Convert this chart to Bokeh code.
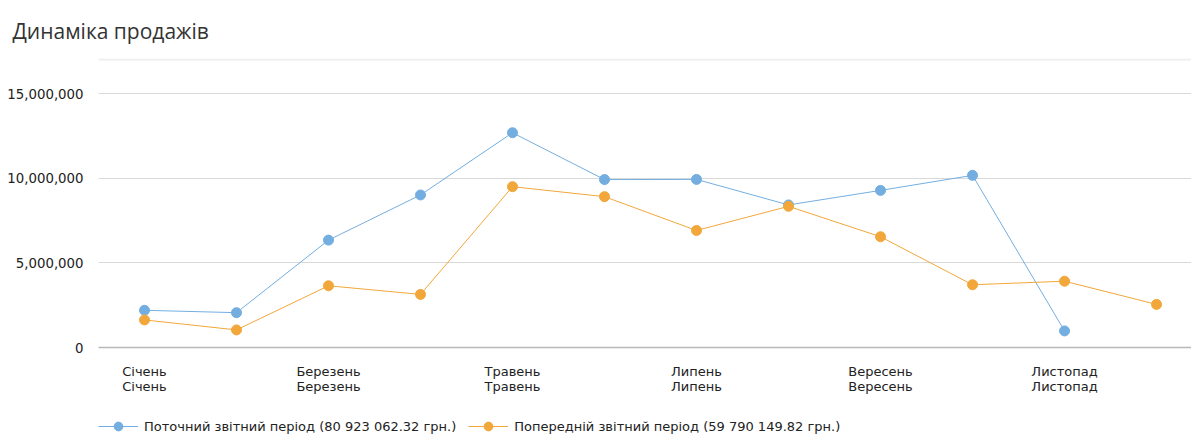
from bokeh.plotting import figure
from bokeh.models import (Range1d, FixedTicker, Legend, LegendItem, Span,
                          NumeralTickFormatter)
from bokeh.layouts import column
from bokeh.embed import file_html
from bokeh.resources import INLINE

# ---- data ----
title_text = "Динаміка продажів"
months = ["Січень", "Лютий", "Березень", "Квітень", "Травень", "Червень",
          "Липень", "Серпень", "Вересень", "Жовтень", "Листопад", "Грудень"]
current = [2200000, 2060000, 6350000, 9020000, 12700000, 9930000,
           9940000, 8430000, 9290000, 10180000, 980000]
previous = [1630000, 1040000, 3650000, 3140000, 9510000, 8920000,
            6920000, 8350000, 6550000, 3710000, 3920000, 2550000]
y_ticks = [0, 5000000, 10000000, 15000000]
x_label_ticks = [0, 2, 4, 6, 8, 10]
current_label = "Поточний звітний період (80 923 062.32 грн.)"
previous_label = "Попередній звітний період (59 790 149.82 грн.)"

BLUE = "#74aee0"
ORANGE = "#f2a73a"
FONT = "DejaVu Sans"

Y_END = 17.09e6
FRAME_H = 289  # px between frame top and bottom

xs = list(range(len(months)))

# ---------------- main chart ----------------
p = figure(frame_width=1093, frame_height=FRAME_H, x_range=Range1d(-0.5, 11.38),
           y_range=Range1d(0, Y_END), output_backend="svg",
           toolbar_location=None, min_border_left=98, min_border_right=0,
           min_border_top=58, min_border_bottom=53, title=title_text)
p.outline_line_color = None

p.title.text_font = "Open Sans"
p.title.text_font_size = "21px"
p.title.text_font_style = "normal"
p.title.text_color = "#333333"
p.title.align = "left"
p.title.offset = -86
p.title.standoff = 27

# separator line under the title, at the top edge of the frame
p.add_layout(Span(location=Y_END - 1.0 * Y_END / FRAME_H, dimension="width",
                  line_color="#eeeeee", line_width=2))

p.xgrid.visible = False
p.ygrid.grid_line_color = "#d9d9d9"
p.ygrid.ticker = FixedTicker(ticks=y_ticks)

yax = p.yaxis[0]
yax.ticker = FixedTicker(ticks=y_ticks)
yax.formatter = NumeralTickFormatter(format="0,0")
yax.axis_line_color = None
yax.major_tick_line_color = None
yax.minor_tick_line_color = None
yax.major_tick_out = 0
yax.major_tick_in = 0
yax.major_label_standoff = 15
yax.major_label_text_font = FONT
yax.major_label_text_font_size = "13.3px"
yax.major_label_text_color = "#222222"

xax = p.xaxis[0]
xax.ticker = FixedTicker(ticks=x_label_ticks)
xax.major_label_overrides = {i: months[i] + "\n" + months[i] for i in x_label_ticks}
xax.axis_line_color = "#b8b8b8"
xax.axis_line_width = 1.5
xax.major_tick_line_color = None
xax.minor_tick_line_color = None
xax.major_tick_out = 0
xax.major_tick_in = 0
xax.major_label_standoff = 16
xax.major_label_text_line_height = 1.05
xax.major_label_text_font = FONT
xax.major_label_text_font_size = "13px"
xax.major_label_text_color = "#222222"

p.line(xs[:len(current)], current, line_color=BLUE, line_width=1)
p.scatter(xs[:len(current)], current, size=10, fill_color=BLUE, line_color=BLUE)
p.line(xs[:len(previous)], previous, line_color=ORANGE, line_width=1)
p.scatter(xs[:len(previous)], previous, size=10, fill_color=ORANGE, line_color=ORANGE)

# ---------------- legend strip ----------------
lg = figure(frame_width=1093, frame_height=37, output_backend="svg",
            toolbar_location=None, x_axis_location=None, y_axis_location=None,
            min_border_left=98, min_border_right=0, min_border_top=0,
            min_border_bottom=0)
lg.outline_line_color = None
lg.grid.visible = False
lb1 = lg.line(xs[:len(current)], current, line_color=BLUE, line_width=1, visible=False)
sb1 = lg.scatter(xs[:len(current)], current, size=10, fill_color=BLUE,
                 line_color=BLUE, visible=False)
lb2 = lg.line(xs[:len(previous)], previous, line_color=ORANGE, line_width=1, visible=False)
sb2 = lg.scatter(xs[:len(previous)], previous, size=10, fill_color=ORANGE,
                 line_color=ORANGE, visible=False)

legend = Legend(items=[LegendItem(label=current_label, renderers=[lb1, sb1]),
                       LegendItem(label=previous_label, renderers=[lb2, sb2])],
                location="bottom_left", orientation="horizontal",
                padding=0, margin=0, spacing=12, label_standoff=6,
                glyph_width=40, glyph_height=22,
                border_line_color=None, background_fill_alpha=0,
                label_text_font=FONT, label_text_font_size="13px",
                label_text_color="#222222")
lg.add_layout(legend)

layout = column(p, lg)
open("out.html", "w").write(file_html(layout, INLINE))
